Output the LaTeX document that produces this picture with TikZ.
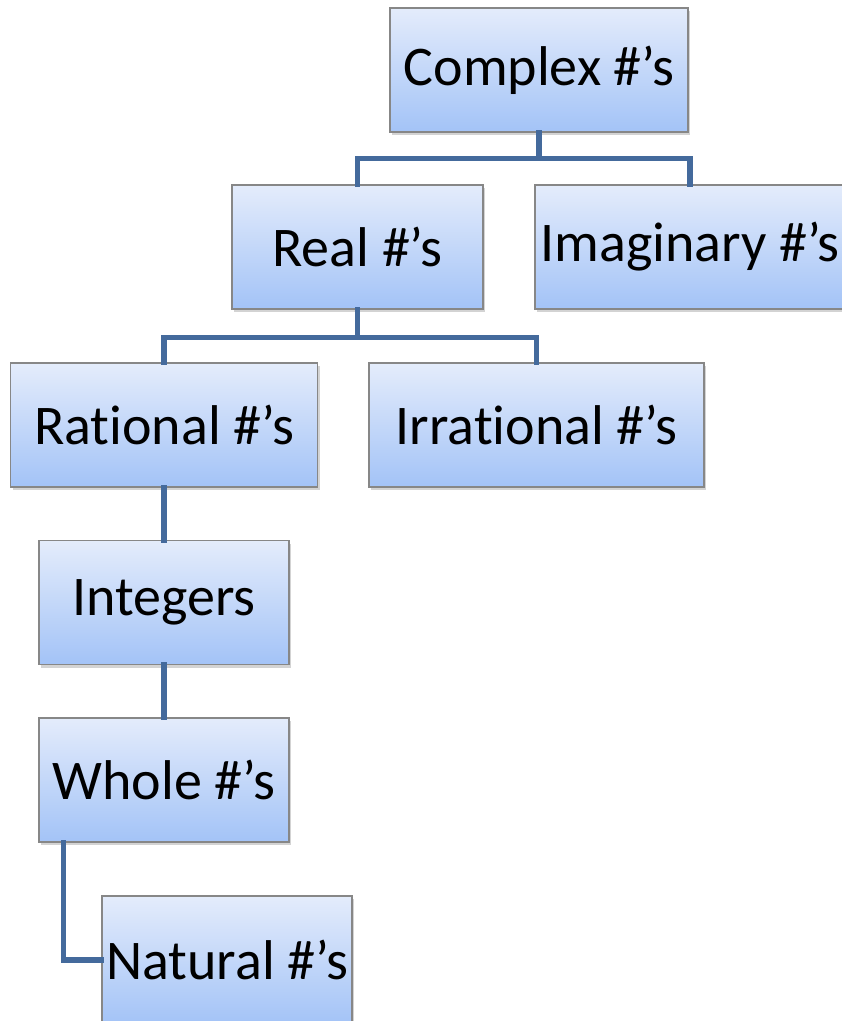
\documentclass[tikz,border=0pt]{standalone}
\usepackage{fontspec}
\setmainfont{Carlito}[Ligatures=NoCommon]
\usepackage{tikz}
\usetikzlibrary{shadows}

\definecolor{boxtop}{RGB}{228,236,251}
\definecolor{boxmid}{RGB}{210,225,250}
\definecolor{boxbot}{RGB}{163,195,247}
\definecolor{boxline}{RGB}{135,135,135}
\definecolor{linkblue}{RGB}{68,106,156}

\tikzset{
  numbox/.style={rectangle, draw=boxline, line width=1.2pt,
    top color=boxtop, middle color=boxmid, bottom color=boxbot,
    minimum height=124pt, inner sep=0pt,
    drop shadow={opacity=0.35, shadow xshift=2pt, shadow yshift=-3pt},
    font=\fontsize{56}{60}\selectfont},
  link/.style={linkblue, line width=5.5pt, line cap=rect}
}

\begin{document}
\begin{tikzpicture}[x=1pt,y=-1pt]
  \useasboundingbox (0,0) rectangle (842,1021);
  \clip (0,0) rectangle (842,1021);
  % boxes
  \node[numbox, minimum width=298pt] (complex) at (539,70) {Complex \#’s};
  \node[numbox, minimum width=251pt] (real) at (357.5,247) {Real \#’s};
  \node[numbox, minimum width=310pt] (imag) at (690,247) {Imaginary \#’s};
  \node[numbox, minimum width=307pt] (rational) at (164,425) {Rational \#’s};
  \node[numbox, minimum width=335pt] (irrational) at (536.5,425) {Irrational \#’s};
  \node[numbox, minimum width=250pt] (integers) at (164,602.5) {Integers};
  \node[numbox, minimum width=250pt] (whole) at (164,780) {Whole \#’s};
  \node[numbox, minimum width=250pt, minimum height=128pt] (natural) at (227,960) {Natural \#’s};
  % connectors
  \draw[link] (complex.south) -- ++(0,26) coordinate (jc);
  \draw[link] (real.north) |- (jc) -| (imag.north);
  \draw[link] (real.south) -- ++(0,28) coordinate (jr);
  \draw[link] (rational.north) |- (jr) -| (irrational.north);
  \draw[link] (rational.south) -- (integers.north);
  \draw[link] (integers.south) -- (whole.north);
  \draw[link] ([xshift=25pt]whole.south west) |- (natural.west);
\end{tikzpicture}
\end{document}
